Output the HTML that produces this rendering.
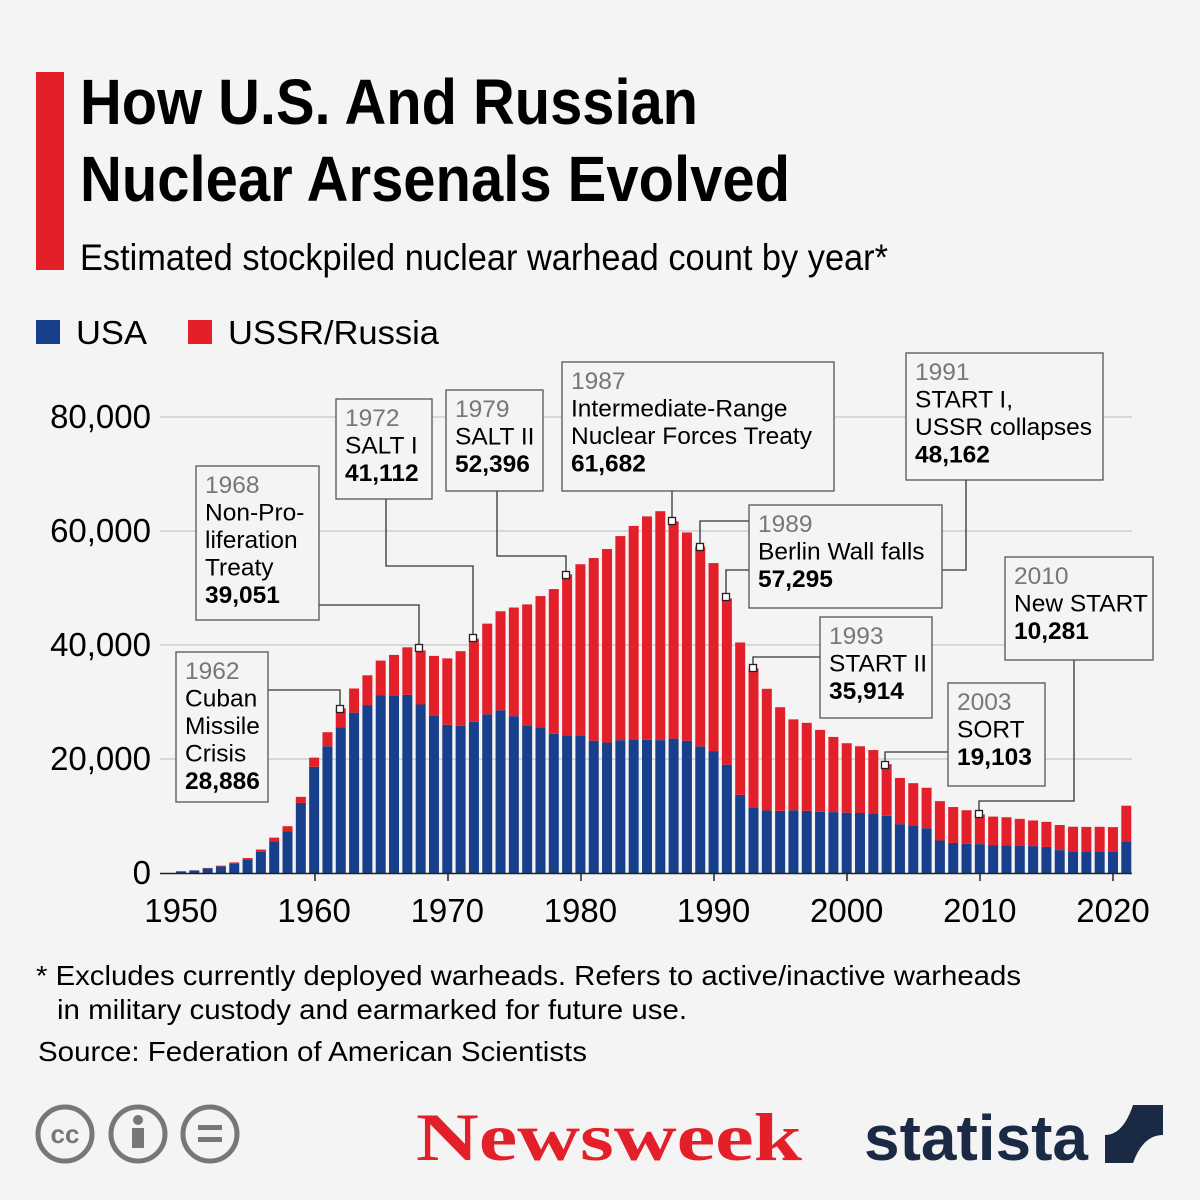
<!DOCTYPE html>
<html><head><meta charset="utf-8"><style>
body{margin:0;background:#f4f4f4;width:1200px;height:1200px;overflow:hidden;font-family:"Liberation Sans",sans-serif}
svg{position:absolute;left:0;top:0}
</style></head><body>
<svg id="s" width="1200" height="1200" xmlns="http://www.w3.org/2000/svg">
<rect x="0" y="0" width="1200" height="1200" fill="#f4f4f4"/>
<rect x="36" y="72" width="28" height="198" fill="#e3202a"/>
<text x="80" y="124" font-family="Liberation Sans Narrow, Liberation Sans, sans-serif" font-weight="bold" font-size="64" textLength="618" lengthAdjust="spacingAndGlyphs">How U.S. And Russian</text>
<text x="80" y="201" font-family="Liberation Sans Narrow, Liberation Sans, sans-serif" font-weight="bold" font-size="64" textLength="710" lengthAdjust="spacingAndGlyphs">Nuclear Arsenals Evolved</text>
<text x="80" y="270" font-family="Liberation Sans Narrow, Liberation Sans, sans-serif" font-size="37" textLength="808" lengthAdjust="spacingAndGlyphs">Estimated stockpiled nuclear warhead count by year*</text>
<rect x="36" y="320" width="24" height="24" fill="#173f8c"/>
<text x="76" y="344" font-size="33" textLength="71" lengthAdjust="spacingAndGlyphs">USA</text>
<rect x="188" y="320" width="24" height="24" fill="#e3202a"/>
<text x="228" y="344" font-size="33" textLength="211" lengthAdjust="spacingAndGlyphs">USSR/Russia</text>
<g id="grid" stroke="#cfcfcf" stroke-width="1.5"></g>
<g id="bars"></g>
<g id="ann" font-size="24.5"></g>
<g font-size="28">
<text x="36" y="985" textLength="985" lengthAdjust="spacingAndGlyphs">* Excludes currently deployed warheads. Refers to active/inactive warheads</text>
<text x="57" y="1019" textLength="630" lengthAdjust="spacingAndGlyphs">in military custody and earmarked for future use.</text>
<text x="38" y="1061" textLength="549" lengthAdjust="spacingAndGlyphs">Source: Federation of American Scientists</text>
</g>
<g fill="none" stroke="#777" stroke-width="5">
<circle cx="65" cy="1134" r="27"/><circle cx="138" cy="1134" r="27"/><circle cx="210" cy="1134" r="27"/>
</g>
<text x="65" y="1143" font-size="26" font-weight="bold" fill="#777" text-anchor="middle">cc</text>
<circle cx="138" cy="1120" r="5" fill="#777"/><rect x="132" y="1128" width="12" height="20" fill="#777"/>
<rect x="198" y="1125" width="24" height="5" fill="#777"/><rect x="198" y="1137" width="24" height="5" fill="#777"/>
<text x="416" y="1160" font-family="Liberation Serif, serif" font-weight="bold" font-size="68" fill="#e3202a" textLength="386" lengthAdjust="spacingAndGlyphs">Newsweek</text>
<text x="864" y="1160" font-weight="bold" font-size="64" fill="#1b2a44" textLength="224" lengthAdjust="spacingAndGlyphs">statista</text>
<path d="M1105 1105 h58 v30 q-20 0 -30 28 h-28 v-28 q18 0 28 -30z" fill="#1b2a44"/>
</svg>
<script>
var us=[299,438,841,1169,1703,2422,3692,5543,7345,12298,18638,22229,25540,28133,29463,31139,31175,31255,29561,27552,26008,25830,26516,27835,28537,27519,25914,25542,24418,24138,24104,23208,22886,23305,23459,23368,23317,23575,23205,22217,21392,19008,13708,11511,10979,10904,11011,10903,10732,10685,10577,10526,10457,10027,8570,8360,7853,5709,5273,5113,5066,4897,4881,4804,4717,4571,4018,3822,3785,3805,3750,5550];
var ru=[5,25,50,120,150,200,426,660,869,1060,1605,2471,3346,4238,5221,6129,7089,8339,9490,10538,11643,13092,14596,15915,17385,19055,21205,23044,25393,28258,30062,32049,33952,35804,37431,39197,40159,38107,36538,35078,32980,29154,26734,24403,21339,18179,15942,15442,14368,13188,12188,11709,11111,9076,8100,7400,7100,6900,6300,5900,5215,5000,4900,4700,4500,4400,4400,4300,4300,4300,4300,6257];
var NS="http://www.w3.org/2000/svg";
function el(p,t,a,txt){var e=document.createElementNS(NS,t);for(var k in a)e.setAttribute(k,a[k]);if(txt!=null)e.textContent=txt;p.appendChild(e);return e;}
var X=function(y){return 181+(y-1950)*13.314;},Y=function(v){return 873-v*0.0057;};
var g=document.getElementById('grid'),b=document.getElementById('bars'),a=document.getElementById('ann'),s=document.getElementById('s');
for(var i=0;i<=4;i++){var yy=Y(i*20000);if(i>0)el(g,'line',{x1:160,x2:1132,y1:yy,y2:yy});
el(s,'text',{x:151,y:yy+11,'font-size':33,'text-anchor':'end'},i==0?'0':(i*20)+',000');}
for(var y=1950;y<=2020;y+=10)el(s,'text',{x:X(y),y:922,'font-size':33,'text-anchor':'middle'},''+y);
for(var i=0;i<us.length;i++){var x=X(1950+i)-5;
el(b,'rect',{x:x,y:Y(us[i]),width:10,height:us[i]*0.0057,fill:'#173f8c'});
el(b,'rect',{x:x,y:Y(us[i]+ru[i]),width:10,height:ru[i]*0.0057,fill:'#e3202a'});}
el(b,'line',{x1:160,x2:1132,y1:873.5,y2:873.5,stroke:'#222','stroke-width':1.5});
[315,448,581,714,847,980,1113].forEach(function(x){el(b,'line',{x1:x,x2:x,y1:873,y2:881,stroke:'#222','stroke-width':1.5});});
function line(pts){el(a,'polyline',{points:pts,fill:'none',stroke:'#333','stroke-width':1.3});}
function box(x1,y1,x2,y2,lines){el(a,'rect',{x:x1,y:y1,width:x2-x1,height:y2-y1,fill:'#f4f4f4',stroke:'#555','stroke-width':1.3});
var yy=y1+27;lines.forEach(function(l,j){var at={x:x1+9,y:yy};if(j==0)at.fill='#777';if(j==lines.length-1)at['font-weight']='bold';el(a,'text',at,l);yy+=27.5;});}
function mk(x,y){el(a,'rect',{x:x-3.5,y:y-3.5,width:7,height:7,fill:'#fff',stroke:'#222','stroke-width':1.3});}
line('268,690 340,690 340,709');line('319,605 419,605 419,648');line('386,499 386,566 473,566 473,638');
line('497,491 497,556 566,556 566,575');line('672,491 672,521');line('749,521 700,521 700,547');
line('726,597 726,570 966,570 966,480');line('820,657 753,657 753,668');line('948,752 885,752 885,765');
line('1074,660 1074,801 979,801 979,814');
box(176,652,268,802,['1962','Cuban','Missile','Crisis','28,886']);
box(196,466,319,620,['1968','Non-Pro-','liferation','Treaty','39,051']);
box(336,399,432,499,['1972','SALT I','41,112']);
box(446,390,543,491,['1979','SALT II','52,396']);
box(562,362,834,491,['1987','Intermediate-Range','Nuclear Forces Treaty','61,682']);
box(906,353,1103,480,['1991','START I,','USSR collapses','48,162']);
box(749,505,942,608,['1989','Berlin Wall falls','57,295']);
box(820,617,932,718,['1993','START II','35,914']);
box(948,683,1045,786,['2003','SORT','19,103']);
box(1005,557,1153,660,['2010','New START','10,281']);
[[340,709],[419,648],[473,638],[566,575],[672,521],[700,547],[726,597],[753,668],[885,765],[979,814]].forEach(function(p){mk(p[0],p[1]);});
</script>
</body></html>
